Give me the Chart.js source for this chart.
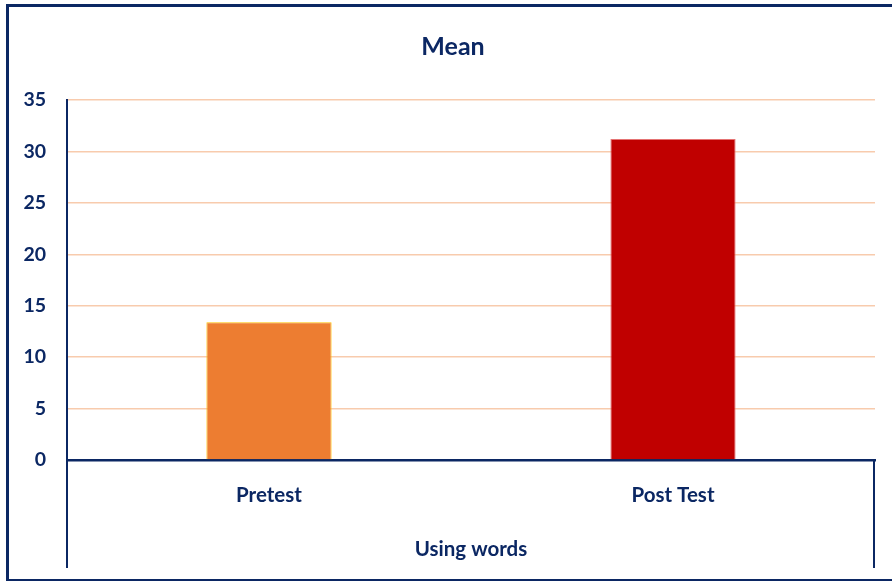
<!DOCTYPE html>
<html>
<head>
<meta charset="utf-8">
<script src="https://cdn.jsdelivr.net/npm/chart.js@4.4.1/dist/chart.umd.min.js"></script>
<style>
  html, body { margin: 0; padding: 0; background: #fff; }
  canvas { display: block; }
</style>
</head>
<body>
<canvas id="meanChart" width="892" height="582"></canvas>
<script>
const categories = ["Pretest", "Post Test"];
const meanValues = [13.4, 31.2];
const yTicks = [0, 5, 10, 15, 20, 25, 30, 35];
const groupLabel = "Using words";
const chartTitle = "Mean";

const NAVY = "#0b2763";
const FONT = "Lato, 'Open Sans', sans-serif";

// outer frame and the group separators below the axis
const framePlugin = {
  id: "frame",
  afterDraw(chart) {
    const c = chart.ctx;
    const area = chart.chartArea;
    const xScale = chart.scales.x;
    c.save();
    c.strokeStyle = NAVY;
    c.lineWidth = 3;
    c.beginPath();
    c.moveTo(6, 5.5); c.lineTo(892, 5.5);
    c.moveTo(7.5, 4); c.lineTo(7.5, 581);
    c.stroke();
    c.lineWidth = 2;
    c.beginPath();
    c.moveTo(6, 580); c.lineTo(892, 580);
    c.stroke();
    // extend left/right category boundaries down through the group label row
    const lowY = xScale.bottom - 14;
    c.beginPath();
    c.moveTo(area.left, area.bottom); c.lineTo(area.left, lowY);
    c.moveTo(area.right - 1, area.bottom - 1); c.lineTo(area.right - 1, lowY);
    c.stroke();
    c.restore();
  }
};

new Chart(document.getElementById("meanChart"), {
  type: "bar",
  data: {
    labels: categories,
    datasets: [{
      label: chartTitle,
      data: meanValues,
      backgroundColor: ["#ed7d31", "#c00000"],
      borderColor: ["#ffc000", "#e57373"],
      borderWidth: 1,
      categoryPercentage: 1,
      barPercentage: 0.31
    }]
  },
  options: {
    responsive: false,
    animation: false,
    devicePixelRatio: 1,
    layout: { padding: { left: 14, right: 0, top: 0, bottom: 0 } },
    plugins: {
      legend: { display: false },
      tooltip: { enabled: false },
      title: {
        display: true,
        text: chartTitle,
        color: NAVY,
        font: { family: FONT, size: 25, weight: "bold" },
        padding: { top: 32, bottom: 38 }
      }
    },
    scales: {
      y: {
        min: 0,
        max: 35,
        afterBuildTicks: scale => { scale.ticks = yTicks.map(v => ({ value: v })); },
        afterFit: scale => { scale.width = 53; },
        grid: { color: "#f8cbad", lineWidth: 1.5, drawTicks: false },
        border: { color: NAVY, width: 2 },
        ticks: {
          color: NAVY,
          padding: 21,
          font: { family: FONT, size: 19.5, weight: "bold" }
        }
      },
      // empty right-hand strip so the plot ends where the reference does
      yRight: {
        position: "right",
        display: true,
        afterFit: scale => { scale.width = 17; },
        grid: { display: false, drawTicks: false },
        border: { display: false },
        ticks: { display: false }
      },
      x: {
        afterFit: scale => { scale.height = 122; },
        grid: { display: false, drawTicks: false },
        border: { color: NAVY, width: 2.5 },
        ticks: {
          color: NAVY,
          padding: 23,
          font: { family: FONT, size: 20.5, weight: "bold" }
        },
        title: {
          display: true,
          text: groupLabel,
          color: NAVY,
          font: { family: FONT, size: 20.5, weight: "bold" },
          padding: { top: 0, bottom: 20 }
        }
      }
    }
  },
  plugins: [framePlugin]
});
</script>
</body>
</html>
